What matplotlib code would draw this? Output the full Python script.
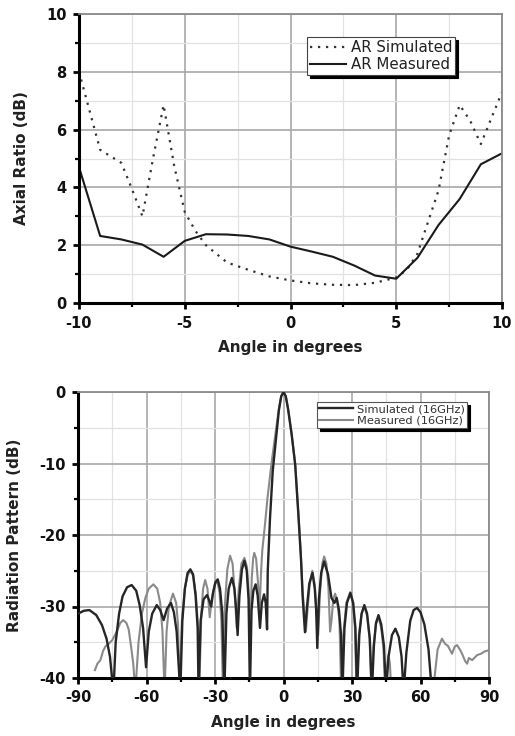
import numpy as np
import matplotlib
matplotlib.use("Agg")
import matplotlib.pyplot as plt
from matplotlib.ticker import MultipleLocator

plt.rcParams['font.family'] = ['DejaVu Sans']
plt.rcParams['axes.unicode_minus'] = False

# ---------------- Axial ratio data ----------------
ar_sim_angle = [-10, -9, -8, -7.5, -7, -6.5, -6, -5.5, -5, -4.5, -4, -3, -2, -1, 0, 1, 2, 3, 4, 5,
                5.5, 6, 6.5, 7, 7.5, 8, 8.5, 9, 9.5, 10]
ar_sim_value = [8.0, 5.3, 4.85, 3.95, 3.0, 5.0, 6.85, 4.75, 3.15, 2.5, 2.0, 1.4, 1.15, 0.92, 0.78,
                0.68, 0.63, 0.62, 0.7, 0.88, 1.15, 1.7, 2.8, 3.9, 5.8, 6.85, 6.3, 5.5, 6.4, 7.3]

ar_meas_angle = [-10, -9, -8, -7, -6, -5, -4, -3, -2, -1, 0, 1, 2, 3, 4, 5, 6, 7, 8, 9, 10]
ar_meas_value = [4.7, 2.32, 2.2, 2.02, 1.6, 2.15, 2.38, 2.37, 2.32, 2.2, 1.95, 1.78, 1.6, 1.3,
                 0.95, 0.84, 1.56, 2.7, 3.6, 4.8, 5.18]

# ---------------- Radiation pattern data (angle, dB) ----------------
rp_sim_angle = [
    -90, -87.5, -85, -82, -79.5, -77.5, -76, -74.5,
    -73.5, -72, -70.5, -68.5, -66.5, -64.5, -63, -61.5, -60.2,
    -59, -57.5, -55.5, -54, -52.5, -51, -49.3, -48, -46.8, -45.2,
    -44.3, -43.2, -42, -40.8, -39.6, -38.5, -37.6, -37.2,
    -36.3, -35, -33.5, -32.5, -31.7, -30.8, -29.8, -28.8, -27.8, -26.8, -25.9,
    -25, -24, -22.6, -21.5, -20.7, -20.1,
    -19.3, -18.2, -17.1, -16.1, -15.3, -14.7,
    -14, -13.2, -12.2, -11.3, -10.3,
    -9.5, -8.5, -7.8, -7.2,
    -6.9, -5.9, -4.7, -3.2, -2, -1, 0, 1, 2, 3.6, 5.1, 6.6, 7.7, 8.4, 9.4,
    10.3, 11.3, 12.7, 13.7, 14.3, 14.8,
    15.5, 16.5, 17.8, 19.5, 21, 22.3, 23.3, 24.3, 25.2, 25.8,
    26.7, 27.8, 29.3, 30.5, 31.5, 32.2,
    33.2, 34.2, 35.4, 36.6, 37.8, 38.7,
    39.6, 40.5, 41.6, 42.8, 44, 44.9,
    46, 47.5, 49, 50.5, 51.7, 52.6,
    53.8, 55.5, 57, 58.5, 60, 61.7, 63.5, 65]
rp_sim_value = [
    -31.0, -30.6, -30.5, -31.2, -32.6, -34.5, -37.0, -42,
    -35.0, -31.0, -28.6, -27.3, -27.0, -27.8, -29.8, -33.0, -38.5,
    -33.5, -31.0, -29.8, -30.5, -31.9, -30.3, -29.5, -30.8, -33.5, -42,
    -32.0, -27.5, -25.3, -24.8, -25.5, -28.5, -33.0, -42,
    -32.0, -29.0, -28.4, -29.2, -30.0, -28.0, -26.6, -26.2, -27.5, -31.0, -42,
    -31.0, -27.5, -26.0, -27.5, -30.5, -34.0,
    -28.5, -24.8, -23.6, -25.0, -29.0, -42,
    -30.5, -27.8, -26.9, -28.5, -33.0,
    -29.5, -28.3, -29.5, -33.2,
    -25.0, -17.6, -11.0, -6.2, -2.5, -0.6, 0.0, -0.6, -2.4, -6.0, -10.1, -17.6, -23.6, -28.7, -33.6,
    -30.0, -26.8, -25.3, -27.5, -30.5, -35.8,
    -29.0, -25.3, -23.7, -25.5, -28.8, -29.5, -28.8, -30.5, -34.0, -42,
    -33.0, -29.5, -28.1, -29.5, -33.0, -42,
    -34.0, -31.0, -29.8, -31.0, -34.5, -42,
    -35.5, -32.3, -31.2, -32.5, -35.5, -42,
    -37.0, -34.0, -33.1, -34.3, -37.0, -42,
    -36.5, -32.0, -30.5, -30.2, -30.8, -32.5, -36.0, -42]

rp_meas_angle = [
    -82.6, -81.5, -80.2, -79, -78, -76.5, -75, -73, -71.5, -70.2, -68.8, -67.8, -66.8, -65.8, -64.9,
    -63.5, -62, -60.5, -59, -57, -55.3, -54, -53, -52.1,
    -51.2, -50.2, -48.4, -47, -46.2, -45.5,
    -44.5, -43.2, -42, -40.8, -39.6, -38.4, -37.5, -36.9,
    -36, -35.2, -34.3, -33.3, -32.3, -31.2, -30, -29, -28, -27.2, -26.5,
    -25.7, -24.6, -23.4, -22.3, -21.4, -20.5,
    -19.6, -18.4, -17.1, -16, -15.2, -14.6,
    -13.9, -13.3, -12.8, -12, -11.2, -10.5,
    -9.8, -9.3, -8.1, -7.0, -5.3, -3.6, -2, -1, 0, 1, 2, 3.6, 5.2, 6.7, 7.5, 8.0, 8.5, 9.2, 9.8,
    10.5, 11.5, 12.6, 13.7, 14.5, 15.2,
    16, 17, 17.8, 18.8, 19.7, 20.4, 21, 21.8, 22.6, 23.5, 24.5, 25.3,
    26.2, 27.5, 29.2, 30.5, 31.3, 32,
    33, 34.2, 35.4, 36.6, 37.7, 38.5,
    39.4, 40.5, 41.6, 42.8, 43.8, 44.5,
    45.3, 46, 46.6, 47.2, 56,
    65.5, 66.5, 67.5, 69.4, 70.7, 72, 73.8, 75, 76, 77.2, 78.2, 79.5, 80.4, 81.2, 82.6,
    84.8, 86.5, 88, 90]
rp_meas_value = [
    -38.9, -38.0, -37.5, -36.2, -35.6, -35.2, -34.7, -33.5, -32.3, -31.9, -32.3, -33.2, -35.5, -38.0, -42,
    -35.0, -31.0, -28.8, -27.5, -26.9, -27.5, -29.5, -33.5, -42,
    -33.5, -30.0, -28.2, -29.5, -32.5, -42,
    -32.0, -27.5, -25.6, -25.0, -25.7, -28.2, -32.5, -42,
    -31.0, -27.5, -26.3, -27.5, -31.5, -28.5, -26.8, -26.5, -28.0, -32.0, -42,
    -30.0, -24.8, -22.9, -24.0, -28.0, -33.0,
    -27.5, -24.0, -23.2, -24.5, -28.5, -35.0,
    -26.0, -23.3, -22.5, -23.3, -26.5, -30.5,
    -25.0, -22.2, -18.5, -14.8, -10.1, -6.0, -2.3, -0.6, 0.0, -0.6, -2.3, -6.0, -10.3, -17.8, -22.0, -25.5, -28.5, -31.0, -33.5,
    -30.5, -26.8, -25.0, -27.0, -31.0, -34.0,
    -28.0, -24.0, -23.0, -24.0, -27.5, -33.5, -32.0, -29.0, -28.2, -29.2, -32.0, -42,
    -34.0, -29.5, -28.0, -29.5, -33.0, -42,
    -34.0, -31.0, -30.0, -31.3, -34.5, -42,
    -35.5, -32.5, -31.5, -33.0, -36.0, -42,
    -38.5, -36.8, -38.0, -42, np.nan,
    -42, -38.9, -36.0, -34.5, -35.2, -35.5, -36.6, -35.6, -35.4, -36.0, -36.6, -37.6, -38.0, -37.2, -37.5,
    -36.8, -36.6, -36.3, -36.1]

W, H = 515, 736
fig = plt.figure(figsize=(W / 100, H / 100), dpi=100)

def style_axes(ax):
    for s in ['left', 'bottom']:
        ax.spines[s].set_linewidth(2.2)
        ax.spines[s].set_color('black')
    for s in ['top', 'right']:
        ax.spines[s].set_linewidth(1.3)
        ax.spines[s].set_color('#8a8a8a')
    ax.tick_params(which='major', direction='out', length=4, width=2, labelsize=10.5,
                   top=False, right=False, pad=5, labelcolor='#111111')
    ax.tick_params(which='minor', direction='out', length=3, width=1.6, top=False, right=False)
    ax.grid(which='major', color='#a8a8a8', lw=1.2)
    ax.grid(which='minor', color='#e2e2e2', lw=0.9)
    ax.set_axisbelow(True)
    for lab in ax.get_xticklabels() + ax.get_yticklabels():
        lab.set_fontweight('bold')

# ---------------- top: axial ratio ----------------
ax1 = fig.add_axes([79 / W, 1 - 303 / H, (502 - 79) / W, (303 - 14) / H])
ax1.plot(ar_sim_angle, ar_sim_value, color='#333333', lw=1.6, ls=(0, (1, 2.6)),
         label='AR Simulated')
ax1.plot(ar_meas_angle, ar_meas_value, color='#1a1a1a', lw=1.5, label='AR Measured')
ax1.set_xlim(-10, 10)
ax1.set_ylim(0, 10)
ax1.xaxis.set_major_locator(MultipleLocator(5))
ax1.xaxis.set_minor_locator(MultipleLocator(2.5))
ax1.yaxis.set_major_locator(MultipleLocator(2))
ax1.yaxis.set_minor_locator(MultipleLocator(1))
style_axes(ax1)
ax1.set_xlabel('Angle in degrees', fontsize=11, fontweight='bold', color='#222222', labelpad=7)
ax1.set_ylabel('Axial Ratio (dB)', fontsize=11, fontweight='bold', color='#222222')
ax1.yaxis.set_label_coords(-0.118, 0.5)
leg1 = ax1.legend(loc='upper right', bbox_to_anchor=(0.889, 0.920), fontsize=10.8,
                  frameon=True, fancybox=False, shadow={'color': 'black', 'alpha': 1},
                  handlelength=2.4, borderpad=0.2, labelspacing=0.15, handletextpad=0.3,
                  borderaxespad=0)
leg1.get_frame().set_edgecolor('#444444')
leg1.get_frame().set_linewidth(0.8)
for t in leg1.get_texts():
    t.set_color('#222222')

# ---------------- bottom: radiation pattern ----------------
ax2 = fig.add_axes([78 / W, 1 - 678 / H, (489 - 78) / W, (678 - 392) / H])
ax2.plot(rp_meas_angle, rp_meas_value, color='#8a8a8a', lw=1.5, label='Measured (16GHz)',
         zorder=2)
ax2.plot(rp_sim_angle, rp_sim_value, color='#262626', lw=1.7, label='Simulated (16GHz)',
         zorder=3)
ax2.set_xlim(-90, 90)
ax2.set_ylim(-40, 0)
ax2.xaxis.set_major_locator(MultipleLocator(30))
ax2.xaxis.set_minor_locator(MultipleLocator(15))
ax2.yaxis.set_major_locator(MultipleLocator(10))
ax2.yaxis.set_minor_locator(MultipleLocator(5))
style_axes(ax2)
ax2.set_xlabel('Angle in degrees', fontsize=11, fontweight='bold', color='#222222', labelpad=7)
ax2.set_ylabel('Radiation Pattern (dB)', fontsize=11, fontweight='bold', color='#222222')
ax2.yaxis.set_label_coords(-0.136, 0.5)
h, l = ax2.get_legend_handles_labels()
leg2 = ax2.legend([h[1], h[0]], [l[1], l[0]], loc='upper right',
                  bbox_to_anchor=(0.946, 0.965), fontsize=8.2,
                  frameon=True, fancybox=False, shadow={'color': 'black', 'alpha': 1},
                  handlelength=3.0, borderpad=0.2, labelspacing=0.15, handletextpad=0.3,
                  borderaxespad=0)
leg2.get_frame().set_edgecolor('#555555')
leg2.get_frame().set_linewidth(0.8)
for t in leg2.get_texts():
    t.set_color('#333333')

fig.savefig('out.png', dpi=100)
